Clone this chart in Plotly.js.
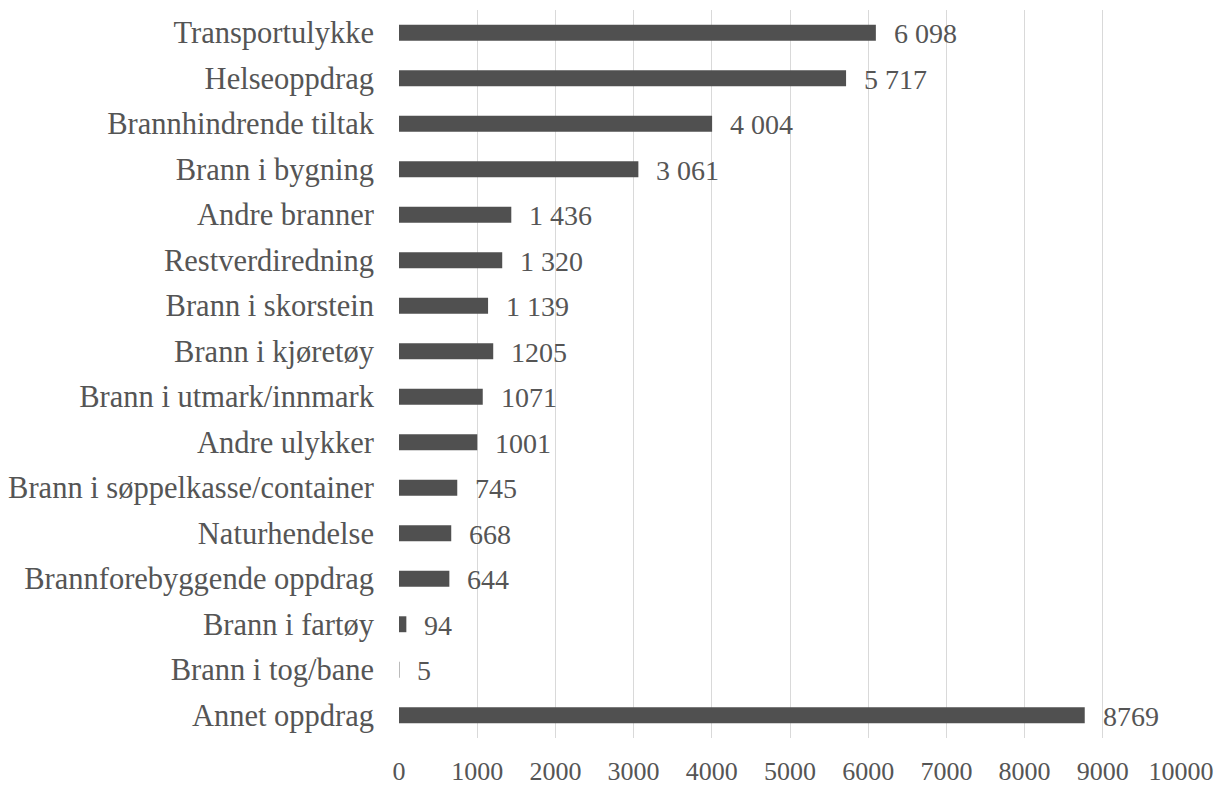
<!DOCTYPE html>
<html>
<head>
<meta charset="utf-8">
<script src="https://cdn.plot.ly/plotly-3.0.1.min.js"></script>
<style>html,body{margin:0;padding:0;background:#fff;}#chart{width:1221px;height:785px;}</style>
</head>
<body>
<div id="chart"></div>
<script>
const categories = [
  "Transportulykke",
  "Helseoppdrag",
  "Brannhindrende tiltak",
  "Brann i bygning",
  "Andre branner",
  "Restverdiredning",
  "Brann i skorstein",
  "Brann i kjøretøy",
  "Brann i utmark/innmark",
  "Andre ulykker",
  "Brann i søppelkasse/container",
  "Naturhendelse",
  "Brannforebyggende oppdrag",
  "Brann i fartøy",
  "Brann i tog/bane",
  "Annet oppdrag"
];
const values = [6098, 5717, 4004, 3061, 1436, 1320, 1139, 1205, 1071, 1001, 745, 668, 644, 94, 5, 8769];
const valueLabels = ["6 098", "5 717", "4 004", "3 061", "1 436", "1 320", "1 139", "1205", "1071", "1001", "745", "668", "644", "94", "5", "8769"];
const xTicks = [0, 1000, 2000, 3000, 4000, 5000, 6000, 7000, 8000, 9000, 10000];

const font = "'Liberation Serif', 'Times New Roman', serif";
const textColor = '#555555';

const labelAnnotations = categories.map((c, i) => ({
  x: values[i],
  y: c,
  xref: 'x',
  yref: 'y',
  text: valueLabels[i],
  showarrow: false,
  xanchor: 'left',
  yanchor: 'middle',
  xshift: 16,
  yshift: -1,
  font: {family: font, size: 28, color: textColor}
}));

Plotly.newPlot('chart', [{
  type: 'bar',
  orientation: 'h',
  y: categories,
  x: values,
  marker: {color: '#505050'},
  hoverinfo: 'none'
}], {
  width: 1221,
  height: 785,
  margin: {l: 399, r: 40, t: 10, b: 47},
  paper_bgcolor: '#ffffff',
  plot_bgcolor: '#ffffff',
  bargap: 0.65,
  showlegend: false,
  font: {family: font, color: textColor},
  annotations: labelAnnotations,
  xaxis: {
    range: [0, 10000],
    tickvals: xTicks,
    ticktext: xTicks.map(String),
    showgrid: true,
    gridcolor: '#d9d9d9',
    gridwidth: 1,
    zeroline: false,
    showline: false,
    ticks: '',
    ticklabelstandoff: 15,
    tickfont: {family: font, size: 26, color: textColor}
  },
  yaxis: {
    type: 'category',
    autorange: 'reversed',
    showgrid: false,
    zeroline: false,
    showline: false,
    ticks: '',
    ticklabelstandoff: 24,
    tickfont: {family: font, size: 30.5, color: textColor}
  }
}, {displayModeBar: false, staticPlot: true});
</script>
</body>
</html>
